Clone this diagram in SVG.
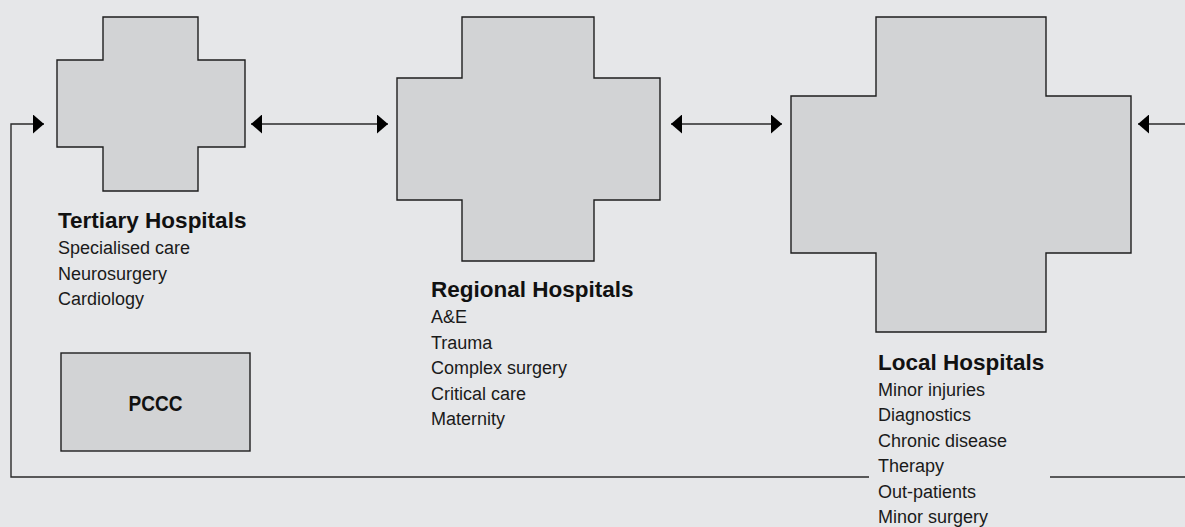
<svg xmlns="http://www.w3.org/2000/svg" width="1185" height="527" viewBox="0 0 1185 527">
<style>
.bg{fill:#e6e7e9}
.shape{fill:#d2d3d5;stroke:#1e1e1e;stroke-width:1.4}
.conn{fill:none;stroke:#2a2a2a;stroke-width:1.4}
.head{font-family:"Liberation Sans",Arial,sans-serif;font-weight:bold;font-size:22.5px;fill:#111}
.item{font-family:"Liberation Sans",Arial,sans-serif;font-size:18px;fill:#1a1a1a}
</style>
<defs>
<marker id="ah" viewBox="0 0 11 19" refX="11" refY="9.5" markerWidth="11" markerHeight="19" markerUnits="userSpaceOnUse" orient="auto-start-reverse">
<path d="M0,0 L11,9.5 L0,19 Z" fill="#000"/>
</marker>
</defs>
<rect class="bg" x="0" y="0" width="1185" height="527"/>
<g id="connectors">
<polyline class="conn" points="869,477 11,477 11,124 44,124" marker-end="url(#ah)"/>
<line class="conn" x1="251" y1="124" x2="388" y2="124" marker-start="url(#ah)" marker-end="url(#ah)"/>
<line class="conn" x1="671" y1="124" x2="782" y2="124" marker-start="url(#ah)" marker-end="url(#ah)"/>
<polyline class="conn" points="1050,477 1185,477"/>
<line class="conn" x1="1185" y1="124" x2="1138" y2="124" marker-end="url(#ah)"/>
</g>
<g id="tertiary">
<path class="shape" d="M103,17 H198 V60 H245 V147 H198 V191 H103 V147 H57 V60 H103 Z"/>
<text class="head" x="58" y="228">Tertiary Hospitals</text>
<text class="item" x="58" y="254">Specialised care</text>
<text class="item" x="58" y="279.5">Neurosurgery</text>
<text class="item" x="58" y="305">Cardiology</text>
</g>
<g id="regional">
<path class="shape" d="M462,17 H594 V78 H660 V200 H594 V261 H462 V200 H397 V78 H462 Z"/>
<text class="head" x="431" y="297">Regional Hospitals</text>
<text class="item" x="431" y="323">A&amp;E</text>
<text class="item" x="431" y="348.5">Trauma</text>
<text class="item" x="431" y="374">Complex surgery</text>
<text class="item" x="431" y="399.5">Critical care</text>
<text class="item" x="431" y="425">Maternity</text>
</g>
<g id="local">
<path class="shape" d="M876,17 H1046 V96 H1131 V253 H1046 V332 H876 V253 H791 V96 H876 Z"/>
<text class="head" x="878" y="369.5">Local Hospitals</text>
<text class="item" x="878" y="395.5">Minor injuries</text>
<text class="item" x="878" y="421">Diagnostics</text>
<text class="item" x="878" y="446.5">Chronic disease</text>
<text class="item" x="878" y="472">Therapy</text>
<text class="item" x="878" y="497.5">Out-patients</text>
<text class="item" x="878" y="523">Minor surgery</text>
</g>
<g id="pccc">
<rect class="shape" x="61" y="353" width="189" height="98"/>
<text class="head" x="155.5" y="411" text-anchor="middle" style="font-size:22px" textLength="54" lengthAdjust="spacingAndGlyphs">PCCC</text>
</g>
</svg>
